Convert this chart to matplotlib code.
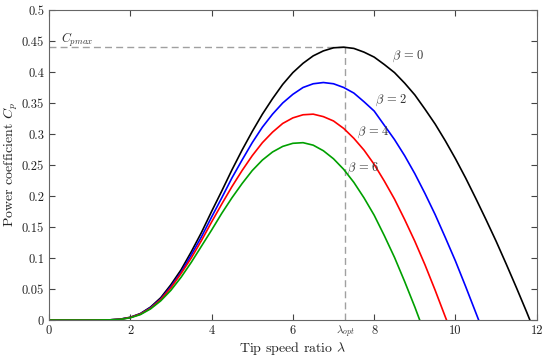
# ===================== IMPORTS =====================
import matplotlib
matplotlib.use("Agg")
import matplotlib.pyplot as plt

# ===================== DATA =====================
lam = [0, 0.5, 1.0,
       1.5, 1.75, 2.0, 2.25, 2.5, 2.75, 3.0, 3.25, 3.5, 3.75, 4.0, 4.25,
       4.5, 4.75, 5.0, 5.25, 5.5, 5.75, 6.0, 6.25, 6.5, 6.75, 7.0, 7.25,
       7.5, 7.75, 8.0, 8.25, 8.5, 8.75, 9.0, 9.25, 9.5, 9.75, 10.0, 10.25,
       10.5, 10.75, 11.0, 11.25, 11.5, 11.75]

cp_beta0 = [0, 0, 0,
            0.0003, 0.0014, 0.0045, 0.0105, 0.021, 0.036, 0.057, 0.081,
            0.110, 0.141, 0.175, 0.208, 0.242, 0.274, 0.304, 0.332, 0.357,
            0.380, 0.399, 0.414, 0.426, 0.434, 0.439, 0.440, 0.438, 0.432,
            0.424, 0.412, 0.399, 0.382, 0.363, 0.340, 0.316, 0.289, 0.260,
            0.229, 0.196, 0.162, 0.127, 0.090, 0.052, 0.013]
lam_end0 = 11.83

cp_beta2 = [0, 0, 0,
            0.0003, 0.0013, 0.0041, 0.0099, 0.020, 0.034, 0.054, 0.077,
            0.105, 0.134, 0.166, 0.197, 0.229, 0.258, 0.286, 0.311, 0.332,
            0.350, 0.364, 0.375, 0.381, 0.383, 0.381, 0.375, 0.366, 0.352,
            0.337, 0.314, 0.291, 0.265, 0.236, 0.204, 0.170, 0.133, 0.095,
            0.054]
lam_end2 = 10.57

cp_beta4 = [0, 0, 0,
            0.0003, 0.0012, 0.0040, 0.0096, 0.019, 0.033, 0.052, 0.075,
            0.100, 0.128, 0.158, 0.187, 0.215, 0.241, 0.265, 0.286, 0.303,
            0.317, 0.326, 0.331, 0.332, 0.328, 0.321, 0.309, 0.293, 0.274,
            0.251, 0.224, 0.195, 0.162, 0.127, 0.089, 0.048, 0.005]
lam_end4 = 9.78

cp_beta6 = [0, 0, 0,
            0.0003, 0.0011, 0.0036, 0.0088, 0.018, 0.031, 0.048, 0.069,
            0.093, 0.119, 0.145, 0.172, 0.197, 0.220, 0.241, 0.258, 0.271,
            0.280, 0.285, 0.286, 0.282, 0.273, 0.260, 0.243, 0.222, 0.197,
            0.169, 0.136, 0.101, 0.062, 0.021]
lam_end6 = 9.12

curves = [
    (cp_beta0, lam_end0, "black", r"$\beta\,=\,0$", (8.45, 0.425)),
    (cp_beta2, lam_end2, "blue", r"$\beta\,=\,2$", (8.02, 0.355)),
    (cp_beta4, lam_end4, "red", r"$\beta\,=\,4$", (7.57, 0.303)),
    (cp_beta6, lam_end6, "#00a000", r"$\beta\,=\,6$", (7.33, 0.245)),
]

cp_max = 0.44
lam_opt = 7.28

xticks = [0, 2, 4, 6, 8, 10, 12]
yticks = [0, 0.05, 0.1, 0.15, 0.2, 0.25, 0.3, 0.35, 0.4, 0.45, 0.5]
ytick_labels = ["0", "0.05", "0.1", "0.15", "0.2", "0.25", "0.3", "0.35",
                "0.4", "0.45", "0.5"]

# ===================== STYLE =====================
plt.rcParams["font.family"] = "cmr10"
plt.rcParams["mathtext.fontset"] = "cm"
plt.rcParams["axes.formatter.use_mathtext"] = True

# ===================== PLOT =====================
fig = plt.figure(figsize=(5.5, 3.56), dpi=100)
ax = fig.add_axes([0.089, 0.101, 0.887, 0.871])

# guide lines for the optimum
ax.plot([0, lam_opt], [cp_max, cp_max], ls=(0, (5, 3)), color="#a0a0a0", lw=1.0)
ax.plot([lam_opt, lam_opt], [0, cp_max], ls=(0, (5, 3)), color="#a0a0a0", lw=1.0)

for cp, lam_end, col, lab, pos in curves:
    xs = lam[:len(cp)] + [lam_end]
    ys = cp + [0]
    ax.plot(xs, ys, color=col, lw=1.2)
    ax.text(pos[0], pos[1], lab, fontsize=9, color="#333333", va="center")

ax.text(0.3, 0.452, r"$C_{pmax}$", fontsize=9, color="#333333", va="center")
ax.text(lam_opt, -0.006, r"$\lambda_{opt}$", fontsize=8, color="#333333",
        ha="center", va="top", clip_on=False)

ax.set_xlim(0, 12)
ax.set_ylim(0, 0.5)
ax.set_xticks(xticks)
ax.set_xticklabels([str(t) for t in xticks])
ax.set_yticks(yticks)
ax.set_yticklabels(ytick_labels)
ax.tick_params(direction="in", top=True, right=True, length=4, width=0.8,
               colors="#444444", labelsize=9, labelcolor="#222222")
for sp in ax.spines.values():
    sp.set_color("#666666")
    sp.set_linewidth(0.8)

ax.set_xlabel(r"Tip speed ratio $\lambda$", fontsize=10, color="#222222", labelpad=2)
ax.set_ylabel(r"Power coefficient $C_p$", fontsize=10, color="#222222", labelpad=1)

fig.savefig("out.png", dpi=100)
